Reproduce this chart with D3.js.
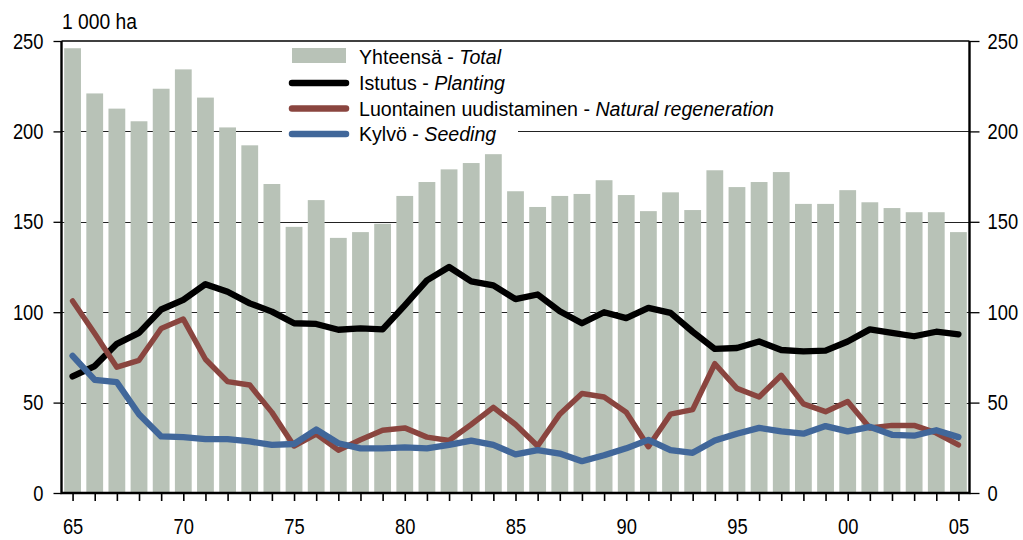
<!DOCTYPE html>
<html>
<head>
<meta charset="utf-8">
<script src="https://cdn.jsdelivr.net/npm/d3@7"></script>
<style>
body { margin: 0; background: #fff; }
.tick text { font-family: "Liberation Sans", Arial, sans-serif; font-size: 22px; fill: #000; }
.legend text { font-family: "Liberation Sans", Arial, sans-serif; font-size: 19.6px; fill: #000; }
</style>
</head>
<body>
<script>
var years = d3.range(1965, 2006);
var total = [246, 221, 212.6, 205.6, 223.6, 234.3, 218.7, 202.2, 192.3, 170.9,
	147.2, 162, 141.1, 144.3, 148.9, 164.3, 172, 179, 182.5, 187.4,
	166.9, 158.2, 164.3, 165.4, 173, 164.8, 155.9, 166.3, 156.5, 178.5,
	169.2, 172, 177.5, 159.9, 159.9, 167.5, 160.8, 157.6, 155.3, 155.3, 144.3];
var planting = [64.5, 70.2, 82.5, 88.6, 101.5, 106.8, 115.5, 111.3, 104.9, 100.3,
	93.9, 93.5, 90.3, 91, 90.5, 103.8, 117.6, 125, 117, 114.8,
	107.2, 109.8, 100.5, 93.9, 100, 96.7, 102.4, 99.6, 89.2, 79.7,
	80.2, 83.8, 79.1, 78.3, 78.7, 83.8, 90.5, 88.6, 86.7, 89.2, 87.8];
var natural = [106.2, 88.2, 69.6, 73.4, 91, 96.2, 74, 61.6, 59.7, 44.6,
	26, 32.6, 23.7, 29.4, 34.7, 36, 30.9, 29, 37.9, 47.4,
	37.9, 26, 43.6, 55, 53.1, 44.6, 25.6, 43.6, 46.1, 71.5,
	57.9, 53.1, 65.1, 49.3, 45, 50.6, 36, 37.4, 37.4, 33.2, 26.6];
var seeding = [75.9, 62.6, 61.3, 43.6, 31.3, 30.9, 29.8, 29.8, 28.5, 26.6,
	27.1, 35.1, 27.5, 24.7, 24.7, 25.2, 24.7, 26.6, 29, 26.6,
	21.4, 23.7, 21.8, 17.6, 20.9, 24.7, 29.4, 23.7, 22.2, 29,
	32.8, 36, 34.1, 32.8, 37, 34.1, 36.6, 32.2, 31.7, 34.7, 30.9];
var yTicks = [0, 50, 100, 150, 200, 250];
var xLabelYears = [1965, 1970, 1975, 1980, 1985, 1990, 1995, 2000, 2005];
var seriesNames = ["Istutus - ", "Luontainen uudistaminen - ", "Kylvö - "];
var seriesNamesEn = ["Planting", "Natural regeneration", "Seeding"];
var seriesColors = ["#000000", "#8a453f", "#41679a"];

var W = 1023, H = 540,
	mLeft = 61.5, mRight = 969.5, mTop = 41, mBottom = 493;

var xc = d3.scalePoint().domain(years)
	.range([mLeft + (mRight - mLeft) / 82, mRight - (mRight - mLeft) / 82]);
var y = d3.scaleLinear().domain([0, 250]).range([mBottom, mTop]);

var svg = d3.select("body").append("svg")
	.attr("width", W).attr("height", H);

// gridlines
svg.append("g").selectAll("line")
	.data([50, 100, 150, 200])
	.enter().append("line")
	.attr("x1", mLeft).attr("x2", mRight)
	.attr("y1", function(d) { return Math.round(y(d)) + 0.5; })
	.attr("y2", function(d) { return Math.round(y(d)) + 0.5; })
	.attr("stroke", "#222").attr("stroke-width", 1.2);

// legend background
svg.append("rect")
	.attr("x", 282).attr("y", 42).attr("width", 236).attr("height", 104)
	.attr("fill", "#fff");

// bars
svg.append("g").selectAll("rect")
	.data(total)
	.enter().append("rect")
	.attr("x", function(d, i) { return xc(years[i]) - 8.4; })
	.attr("width", 16.8)
	.attr("y", function(d) { return y(d); })
	.attr("height", function(d) { return y(0) - y(d); })
	.attr("fill", "#b8c2b7");

// lines
var line = d3.line()
	.x(function(d, i) { return xc(years[i]); })
	.y(function(d) { return y(d); });

[planting, natural, seeding].forEach(function(s, k) {
	svg.append("path")
		.datum(s)
		.attr("d", line)
		.attr("fill", "none")
		.attr("stroke", seriesColors[k])
		.attr("stroke-width", k == 1 ? 5.5 : 6.3)
		.attr("stroke-linejoin", "round")
		.attr("stroke-linecap", "round");
});

// axes
var yLeft = d3.axisLeft(y).tickValues(yTicks).tickSize(8).tickPadding(10);
var yRight = d3.axisRight(y).tickValues(yTicks).tickSize(10).tickPadding(8);
var xAxis = d3.axisBottom(xc).tickSize(8).tickPadding(17)
	.tickFormat(function(d) { return xLabelYears.indexOf(d) >= 0 ? String(d).slice(2) : ""; });

var gl = svg.append("g").attr("transform", "translate(" + mLeft + ",0)").call(yLeft);
var gr = svg.append("g").attr("transform", "translate(" + mRight + ",0)").call(yRight);
var gx = svg.append("g").attr("transform", "translate(0," + mBottom + ")").call(xAxis);
[gl, gr, gx].forEach(function(g) {
	g.select(".domain").remove();
	g.selectAll(".tick line").attr("stroke", "#000").attr("stroke-width", 1.3);
	// narrow the digits like the original condensed face
	g.selectAll(".tick text").each(function() {
		var n = this.textContent.length;
		if (n) d3.select(this).attr("textLength", n * 10.2).attr("lengthAdjust", "spacingAndGlyphs");
	});
});
gx.selectAll(".tick line").attr("stroke-width", 1.6);

// frame
svg.append("line").attr("x1", mLeft).attr("x2", mRight).attr("y1", mTop).attr("y2", mTop)
	.attr("stroke", "#000").attr("stroke-width", 1.4);
svg.append("path")
	.attr("d", "M" + mLeft + "," + mTop + "V" + mBottom + "H" + mRight + "V" + mTop)
	.attr("fill", "none").attr("stroke", "#000").attr("stroke-width", 2.4);

svg.append("text")
	.attr("x", 62).attr("y", 29)
	.attr("textLength", 75).attr("lengthAdjust", "spacingAndGlyphs")
	.style("font-family", "\"Liberation Sans\", Arial, sans-serif")
	.style("font-size", "22px")
	.text("1 000 ha");

// legend
var lg = svg.append("g").attr("class", "legend");
lg.append("rect").attr("x", 292).attr("y", 48).attr("width", 54).attr("height", 15).attr("fill", "#b8c2b7");
var t0 = lg.append("text").attr("x", 359).attr("y", 64);
t0.append("tspan").text("Yhteensä - ");
t0.append("tspan").style("font-style", "italic").text("Total");

seriesNames.forEach(function(n, k) {
	var cy = 83 + k * 25.5;
	lg.append("line")
		.attr("x1", 292).attr("x2", 346).attr("y1", cy).attr("y2", cy)
		.attr("stroke", seriesColors[k]).attr("stroke-width", 6.5).attr("stroke-linecap", "round");
	var t = lg.append("text").attr("x", 359).attr("y", cy + 7);
	t.append("tspan").text(n);
	t.append("tspan").style("font-style", "italic").text(seriesNamesEn[k]);
});
</script>
</body>
</html>
